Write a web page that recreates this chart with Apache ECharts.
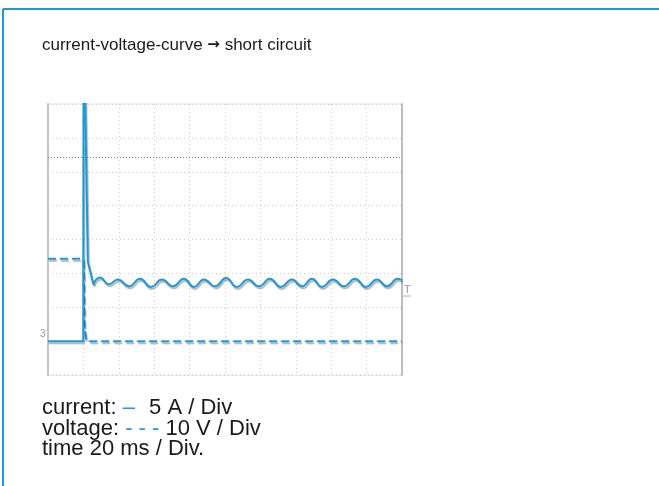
<!DOCTYPE html>
<html>
<head>
<meta charset="utf-8">
<script src="https://cdn.jsdelivr.net/npm/echarts@6/dist/echarts.min.js"></script>
<style>
  html, body { margin: 0; padding: 0; background: #fff; }
  #chart { width: 659px; height: 486px; }
</style>
</head>
<body>
<div id="chart"></div>
<script>
// time in ms (20 ms / div), current in A (5 A / div), voltage in V (10 V / div)
var currentStep = [[0, 0], [19.9, 0], [20.1, 50], [21.0, 50], [22.5, 11.7], [25.6, 8.4]];
var currentRipple = [
    [25.6, 8.4], [29.4, 9.4], [34.5, 8.4], [39.5, 9.1], [45.8, 8.1], [52.0, 9.2], [58.2, 8.0],
    [64.4, 9.1], [70.6, 8.1], [76.8, 9.2], [82.5, 8.0], [88.1, 9.1], [94.4, 8.1], [100.6, 9.3],
    [106.8, 8.0], [113.0, 9.1], [119.2, 8.1], [125.4, 9.2], [131.6, 8.0], [137.9, 9.1], [143.5, 8.1],
    [149.2, 9.2], [154.8, 8.0], [161.0, 9.1], [167.2, 8.1], [173.5, 9.2], [179.7, 8.0], [185.9, 9.1],
    [191.5, 8.1], [197.7, 9.2], [200, 9.0]
];
var voltage = [[0, 24.3], [20.0, 24.3], [20.6, 5], [21.6, 0.3], [23.0, 0], [200, 0]];
var limitLevel = 27.2; // dark dotted reference line (A)

var blue = '#1f9ad8';
var font = '"Liberation Sans", Arial, sans-serif';

var ec = echarts.init(document.getElementById('chart'));
var gridLine = { show: true, lineStyle: { color: '#cfcfcf', type: [1, 3], width: 1 } };
var shadow = { shadowColor: 'rgba(0,0,0,0.3)', shadowBlur: 1, shadowOffsetX: 1, shadowOffsetY: 2 };

var option = {
    backgroundColor: '#fff',
    animation: false,
    title: {
        text: 'current-voltage-curve {a|\u2192} short circuit',
        left: 37,
        top: 32,
        textStyle: {
            fontFamily: font, fontSize: 17, fontWeight: 'normal', color: '#1a1a1a',
            rich: { a: { fontFamily: '"DejaVu Sans"', fontWeight: 'bold', fontSize: 15, color: '#1a1a1a' } }
        }
    },
    grid: { left: 48, right: 257, top: 104, bottom: 111, show: true, borderColor: '#e2e2e2', borderWidth: 1 },
    xAxis: {
        type: 'value', min: 0, max: 200, interval: 20,
        axisLine: { show: false }, axisTick: { show: false }, axisLabel: { show: false },
        splitLine: gridLine
    },
    yAxis: [{
        type: 'value', min: -5, max: 35, interval: 5,
        axisLine: { show: true, lineStyle: { color: '#c4c4c4', width: 2 } },
        axisTick: { show: false }, axisLabel: { show: false },
        splitLine: gridLine
    }, {
        type: 'value', min: -10, max: 70, interval: 10,
        axisLine: { show: true, lineStyle: { color: '#bdbdbd', width: 2 } },
        axisTick: { show: false }, axisLabel: { show: false },
        splitLine: { show: false }
    }],
    series: [{
        name: 'voltage',
        type: 'line',
        yAxisIndex: 1,
        symbol: 'none',
        data: voltage,
        lineStyle: Object.assign({ color: blue, width: 2, type: [8, 4] }, shadow)
    }, {
        name: 'current',
        type: 'line',
        symbol: 'none',
        data: currentStep,
        lineStyle: Object.assign({ color: blue, width: 2 }, shadow),
        markLine: {
            silent: true, symbol: 'none', label: { show: false },
            lineStyle: { color: '#808080', type: [1, 2], width: 1 },
            data: [{ yAxis: limitLevel }]
        }
    }, {
        name: 'current ripple',
        type: 'line',
        symbol: 'none',
        smooth: 0.5,
        data: currentRipple,
        lineStyle: Object.assign({ color: blue, width: 2 }, shadow)
    }],
    graphic: [
        { type: 'line', shape: { x1: 3, y1: 9, x2: 659, y2: 9 }, style: { stroke: '#1a9ad6', lineWidth: 2 } },
        { type: 'line', shape: { x1: 3, y1: 9, x2: 3, y2: 486 }, style: { stroke: '#1a9ad6', lineWidth: 2 } },
        { type: 'text', x: 40, y: 329, style: { text: '3', font: '10px ' + font, fill: '#9a9a9a' } },
        { type: 'text', x: 404, y: 284, style: { text: 'T', font: '11px ' + font, fill: '#9a9a9a' } },
        { type: 'line', shape: { x1: 403, y1: 296, x2: 411, y2: 296 }, style: { stroke: '#b0b0b0', lineWidth: 1 } },
        {
            type: 'text', x: 42, y: 408,
            style: {
                text: 'current: {b|\u2013} 5 A / Div', font: '22px ' + font, fill: '#1a1a1a', verticalAlign: 'middle',
                rich: { b: { fill: blue, font: '22px ' + font, padding: [0, 8, 0, 0] } }
            }
        },
        {
            type: 'text', x: 42, y: 429,
            style: {
                text: 'voltage: {b|- - -} 10 V / Div', font: '22px ' + font, fill: '#1a1a1a', verticalAlign: 'middle',
                rich: { b: { fill: blue, font: '22px ' + font } }
            }
        },
        {
            type: 'text', x: 42, y: 449,
            style: { text: 'time 20 ms / Div.', font: '22px ' + font, fill: '#1a1a1a', verticalAlign: 'middle' }
        }
    ]
};
ec.setOption(option);
</script>
</body>
</html>
